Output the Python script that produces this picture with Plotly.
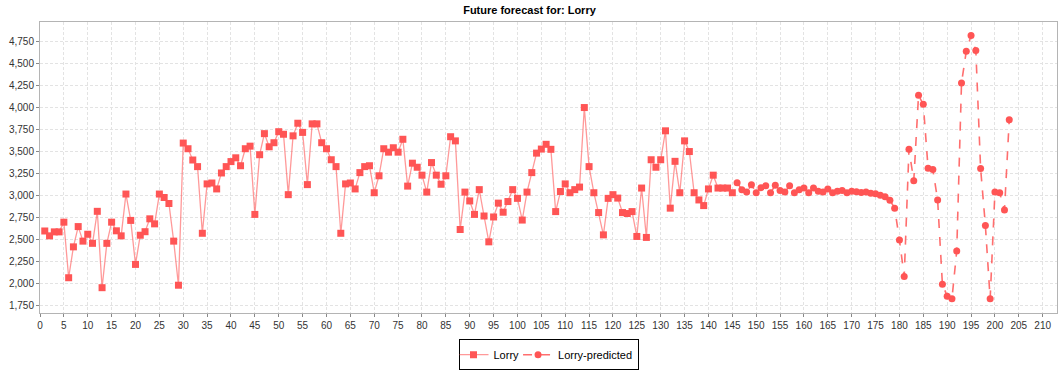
import plotly.graph_objects as go

# Observed lorry counts, periods 1..145
lorry_x = list(range(1, 146))
lorry_y = [
    2600, 2545, 2590, 2590, 2700, 2070, 2420, 2650, 2485, 2563,
    2460, 2823, 1957, 2460, 2700, 2602, 2545, 3019, 2720, 2221,
    2552, 2592, 2738, 2681, 3019, 2980, 2912, 2485, 1985, 3597,
    3533, 3405, 3330, 2574, 3134, 3144, 3077, 3258, 3330, 3387,
    3430, 3340, 3533, 3562, 2788, 3465, 3704, 3555, 3601, 3726,
    3697, 3012, 3679, 3822, 3718, 3126, 3815, 3815, 3601, 3533,
    3408, 3330, 2574, 3134, 3144, 3077, 3262, 3330, 3340, 3034,
    3226, 3533, 3494, 3544, 3494, 3640, 3109, 3369, 3323, 3233,
    3041, 3376, 3233, 3130, 3226, 3669, 3622, 2617, 3041, 2941,
    2788, 3069, 2770, 2477, 2759, 2916, 2813, 2934, 3069, 2970,
    2724, 3041, 3262, 3483, 3529, 3583, 3526, 2820, 3048, 3134,
    3034, 3069, 3098, 4000, 3330, 3034, 2809, 2556, 2970, 3012,
    2973, 2809, 2798, 2820, 2538, 3087, 2527, 3408, 3323, 3408,
    3736, 2859, 3390, 3034, 3622, 3501, 3034, 2952, 2888, 3077,
    3233, 3087, 3087, 3087, 3034,
]

# Forecast, periods 146..203
pred_x = list(range(146, 204))
pred_y = [
    3148, 3069, 3041, 3123, 3034, 3091, 3112, 3034, 3119, 3059,
    3041, 3112, 3034, 3069, 3087, 3034, 3087, 3051, 3041, 3077,
    3034, 3051, 3059, 3034, 3051, 3044, 3037, 3041, 3027, 3023,
    3005, 2987, 2948, 2859, 2499, 2085, 3526, 3169, 4139, 4036,
    3312, 3298, 2952, 1996, 1861, 1832, 2374, 4278, 4638, 4817,
    4646, 3308, 2663, 1832, 3041, 3034, 2838, 3861,
]

RED = "#ff5555"
FONT = "Liberation Sans"

fig = go.Figure()
fig.add_trace(go.Scatter(
    x=lorry_x, y=lorry_y, name="Lorry", mode="lines+markers",
    line=dict(color="rgba(255,85,85,0.6)", width=1.3),
    marker=dict(symbol="square", size=7, color=RED),
))
fig.add_trace(go.Scatter(
    x=pred_x, y=pred_y, name="Lorry-predicted", mode="lines+markers",
    line=dict(color="rgba(255,85,85,0.85)", width=1.6, dash="dash"),
    marker=dict(symbol="circle", size=7, color=RED),
))

axis_common = dict(
    showgrid=True, gridcolor="#e3e3e3", griddash="3px,2px", gridwidth=1,
    zeroline=False, showline=True, linecolor="#b4b4b4", linewidth=1,
    mirror=True, ticks="outside", ticklen=3, tickcolor="#888888",
    tickfont=dict(family=FONT, size=10, color="#333333"),
)

fig.update_layout(
    width=1059, height=372,
    margin=dict(l=40, r=2, t=22, b=42),
    paper_bgcolor="white", plot_bgcolor="white",
    title=dict(text="<b>Future forecast for: Lorry</b>", x=0.5, xanchor="center",
               y=0.972, yanchor="middle",
               font=dict(family=FONT, size=11, color="#000000")),
    xaxis=dict(range=[0, 213], dtick=5, tick0=0, **axis_common),
    yaxis=dict(range=[1670, 4970], dtick=250, tick0=1750, tickformat=",d",
               **axis_common),
    showlegend=True,
    legend=dict(orientation="h", x=0.5, xanchor="center", y=-0.09,
                yanchor="top", bordercolor="#000000", borderwidth=1,
                font=dict(family=FONT, size=11, color="#000000"),
                itemwidth=30, tracegroupgap=0, indentation=-6),
)

fig.write_html("out.html")
